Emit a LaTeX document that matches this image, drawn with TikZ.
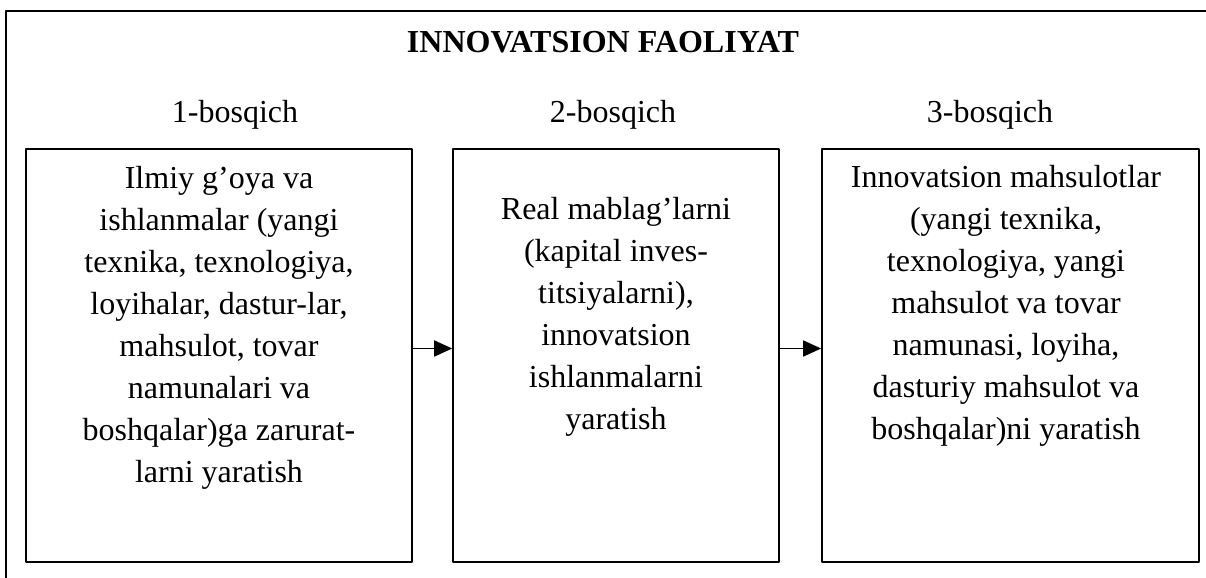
\documentclass[tikz,border=0pt]{standalone}
\usepackage{fontspec}
\setmainfont{Liberation Serif}
\usetikzlibrary{arrows.meta,calc}

\begin{document}
\begin{tikzpicture}[x=0.5pt, y=-0.5pt, line cap=round, line join=round,
  stagebox/.style={draw, line width=0.8pt, inner sep=0pt, minimum height=206.5pt},
  boxtext/.style={anchor=north, align=center, inner sep=0pt, font=\fontsize{16}{21}\selectfont},
  label/.style={anchor=base, inner sep=0pt, font=\fontsize{16}{21}\selectfont},
  flow/.style={-{Triangle[length=9pt,width=8pt]}, line width=0.8pt}]

% --- Page size and outer frame (open at right and bottom) ---
\useasboundingbox (0,0) rectangle (1206,578);
\clip (0,0) rectangle (1206,578);
\draw[line width=0.8pt] (1215,11) -- (6,11) -- (6,590);

% --- Title and stage labels ---
\node[label, font=\fontsize{16}{21}\selectfont\bfseries] (title) at (603,52) {INNOVATSION FAOLIYAT};
\node[label] (stage1) at (235,122) {1-bosqich};
\node[label] (stage2) at (613,122) {2-bosqich};
\node[label] (stage3) at (990,122) {3-bosqich};

% --- Stage boxes ---
\node[stagebox, minimum width=193pt]   (box1) at (219,355.5) {};
\node[stagebox, minimum width=163pt]   (box2) at (616,355.5) {};
\node[stagebox, minimum width=188.5pt] (box3) at (1010.5,355.5) {};

% --- Box texts ---
\node[boxtext] (txt1) at (219,166) {Ilmiy g’oya va\\ishlanmalar (yangi\\texnika, texnologiya,\\loyihalar, dastur-lar,\\mahsulot, tovar\\namunalari va\\boshqalar)ga zarurat-\\larni yaratish};
\node[boxtext] (txt2) at (616,197) {Real mablag’larni\\(kapital inves-\\titsiyalarni),\\innovatsion\\ishlanmalarni\\yaratish};
\node[boxtext] (txt3) at (1006,165) {Innovatsion mahsulotlar\\(yangi texnika,\\texnologiya, yangi\\mahsulot va tovar\\namunasi, loyiha,\\dasturiy mahsulot va\\boshqalar)ni yaratish};

% --- Arrows between stages ---
\draw[flow] ([yshift=3.5pt]box1.east) -- ([yshift=3.5pt]box2.west);
\draw[flow] ([yshift=3.5pt]box2.east) -- ([yshift=3.5pt]box3.west);

\end{tikzpicture}
\end{document}
